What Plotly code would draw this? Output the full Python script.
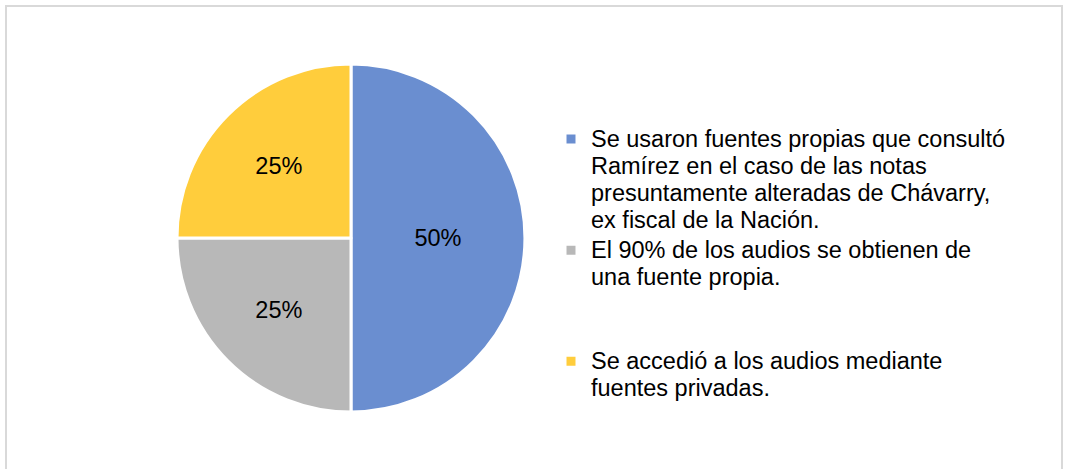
import plotly.graph_objects as go

legend_lines = [
    ["Se usaron fuentes propias que consultó", "Ramírez en el caso de las notas",
     "presuntamente alteradas de Chávarry,", "ex fiscal de la Nación."],
    ["El 90% de los audios se obtienen de", "una fuente propia.", " ", " "],
    ["Se accedió a los audios mediante", "fuentes privadas."],
]
values = [50, 25, 25]
colors = ["#6A8ED0", "#B8B8B8", "#FFCD3C"]

FONT = "Liberation Sans, Arial, sans-serif"
GLYPH = 23.5      # glyph size in px
BASE = 20.8       # base size -> line spacing 1.3*BASE ~ 27px

labels = ["<br>".join(f'<span style="font-size:{GLYPH}px">{ln}</span>' for ln in item)
          for item in legend_lines]

W, H = 1065, 469
cx, cy, r = 351, 238, 174

fig = go.Figure(go.Pie(
    labels=labels,
    values=values,
    sort=False,
    direction="clockwise",
    rotation=0,
    marker=dict(colors=colors, line=dict(color="white", width=3)),
    textinfo="percent",
    texttemplate="%{percent:.0%}",
    textposition="inside",
    insidetextorientation="horizontal",
    textfont=dict(family=FONT, size=GLYPH, color="#000000"),
    domain=dict(x=[(cx - r) / W, (cx + r) / W], y=[(H - cy - r) / H, (H - cy + r) / H]),
    hoverinfo="percent",
))

fig.update_layout(
    width=W, height=H,
    margin=dict(l=0, r=0, t=0, b=0),
    paper_bgcolor="white",
    plot_bgcolor="white",
    font=dict(family=FONT, size=BASE, color="#000000"),
    showlegend=True,
    legend=dict(
        x=551 / W, xanchor="left",
        y=1 - 119 / H, yanchor="top",
        valign="top",
        bgcolor="rgba(0,0,0,0)",
        borderwidth=0,
        font=dict(family=FONT, size=BASE, color="#000000"),
        tracegroupgap=0,
    ),
    shapes=[dict(
        type="rect", xref="paper", yref="paper",
        x0=6 / W, x1=1062 / W, y0=-0.05, y1=1 - 6 / H,
        line=dict(color="#D9D9D9", width=2),
        fillcolor="rgba(0,0,0,0)", layer="below",
    )],
)

fig.write_html(
    "out.html",
    config={"displayModeBar": False},
    post_script="document.body.style.margin='0';document.body.style.overflow='hidden';",
)
